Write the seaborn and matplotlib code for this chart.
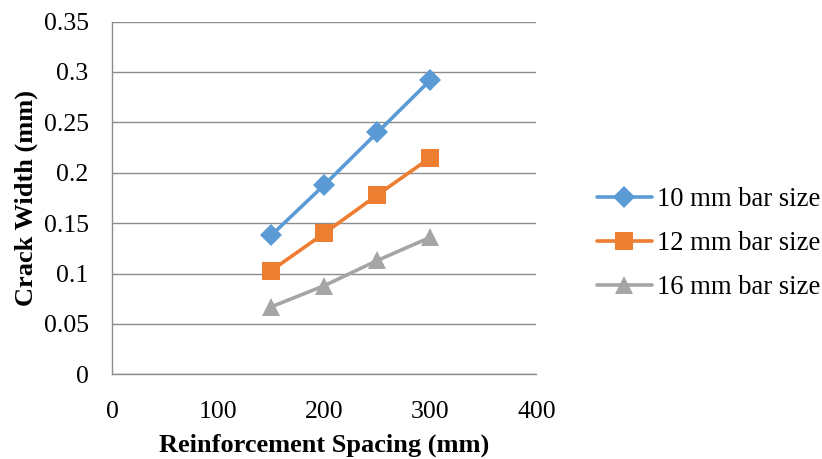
import matplotlib
matplotlib.use("Agg")
import matplotlib.pyplot as plt
from matplotlib.ticker import FuncFormatter
import seaborn as sns
import pandas as pd

spacing = [150, 200, 250, 300]
bar_10mm = [0.138, 0.188, 0.240, 0.292]
bar_12mm = [0.103, 0.140, 0.178, 0.215]
bar_16mm = [0.067, 0.088, 0.113, 0.136]
series_names = ["10 mm bar size", "12 mm bar size", "16 mm bar size"]
x_ticks = [0, 100, 200, 300, 400]
y_ticks = [0, 0.05, 0.1, 0.15, 0.2, 0.25, 0.3, 0.35]

colors = ["#5B9BD5", "#ED7D31", "#A5A5A5"]
markers = ["D", "s", "^"]
msizes = [11, 12.5, 13.5]

frames = []
for name, vals in zip(series_names, [bar_10mm, bar_12mm, bar_16mm]):
    frames.append(pd.DataFrame({"spacing": spacing, "width": vals, "series": name}))
df = pd.concat(frames, ignore_index=True)

sns.set_theme(style="white")
plt.rcParams["font.family"] = ["Liberation Serif", "DejaVu Serif"]
plt.rcParams["text.color"] = "#000000"
plt.rcParams["axes.labelcolor"] = "#000000"

fig = plt.figure(figsize=(8.22, 4.59), dpi=100)
ax = fig.add_axes([0.1366, 0.1845, 0.516, 0.7685])

for name, c, m, ms in zip(series_names, colors, markers, msizes):
    sub = df[df["series"] == name]
    sns.lineplot(data=sub, x="spacing", y="width", ax=ax, color=c, marker=m,
                 markersize=ms, markeredgewidth=0, linewidth=2.6, label=name)

ax.set_xlim(0, 400)
ax.set_ylim(0, 0.35)
ax.set_xticks(x_ticks)
ax.set_yticks(y_ticks)
ax.yaxis.set_major_formatter(FuncFormatter(lambda v, p: f"{v:g}"))
ax.grid(axis="y", color="#8C8C8C", linewidth=1.0)
ax.set_axisbelow(True)
for side in ["top", "right"]:
    ax.spines[side].set_visible(False)
for side in ["left", "bottom"]:
    ax.spines[side].set_color("#8C8C8C")
    ax.spines[side].set_linewidth(1.0)
ax.tick_params(axis="y", labelsize=18.5, colors="#000000", length=0, pad=17)
ax.tick_params(axis="x", labelsize=18.5, colors="#000000", length=0, pad=19)

ax.set_xlabel("Reinforcement Spacing (mm)", fontsize=19, fontweight="bold", labelpad=8)
ax.set_ylabel("Crack Width (mm)", fontsize=19, fontweight="bold", labelpad=4)

leg = ax.legend(loc="center left", bbox_to_anchor=(0.697, 0.469),
                bbox_transform=fig.transFigure, frameon=False,
                fontsize=19.2, handlelength=2.05, handletextpad=0.2, labelspacing=0.72)

fig.savefig("out.png", dpi=100)
